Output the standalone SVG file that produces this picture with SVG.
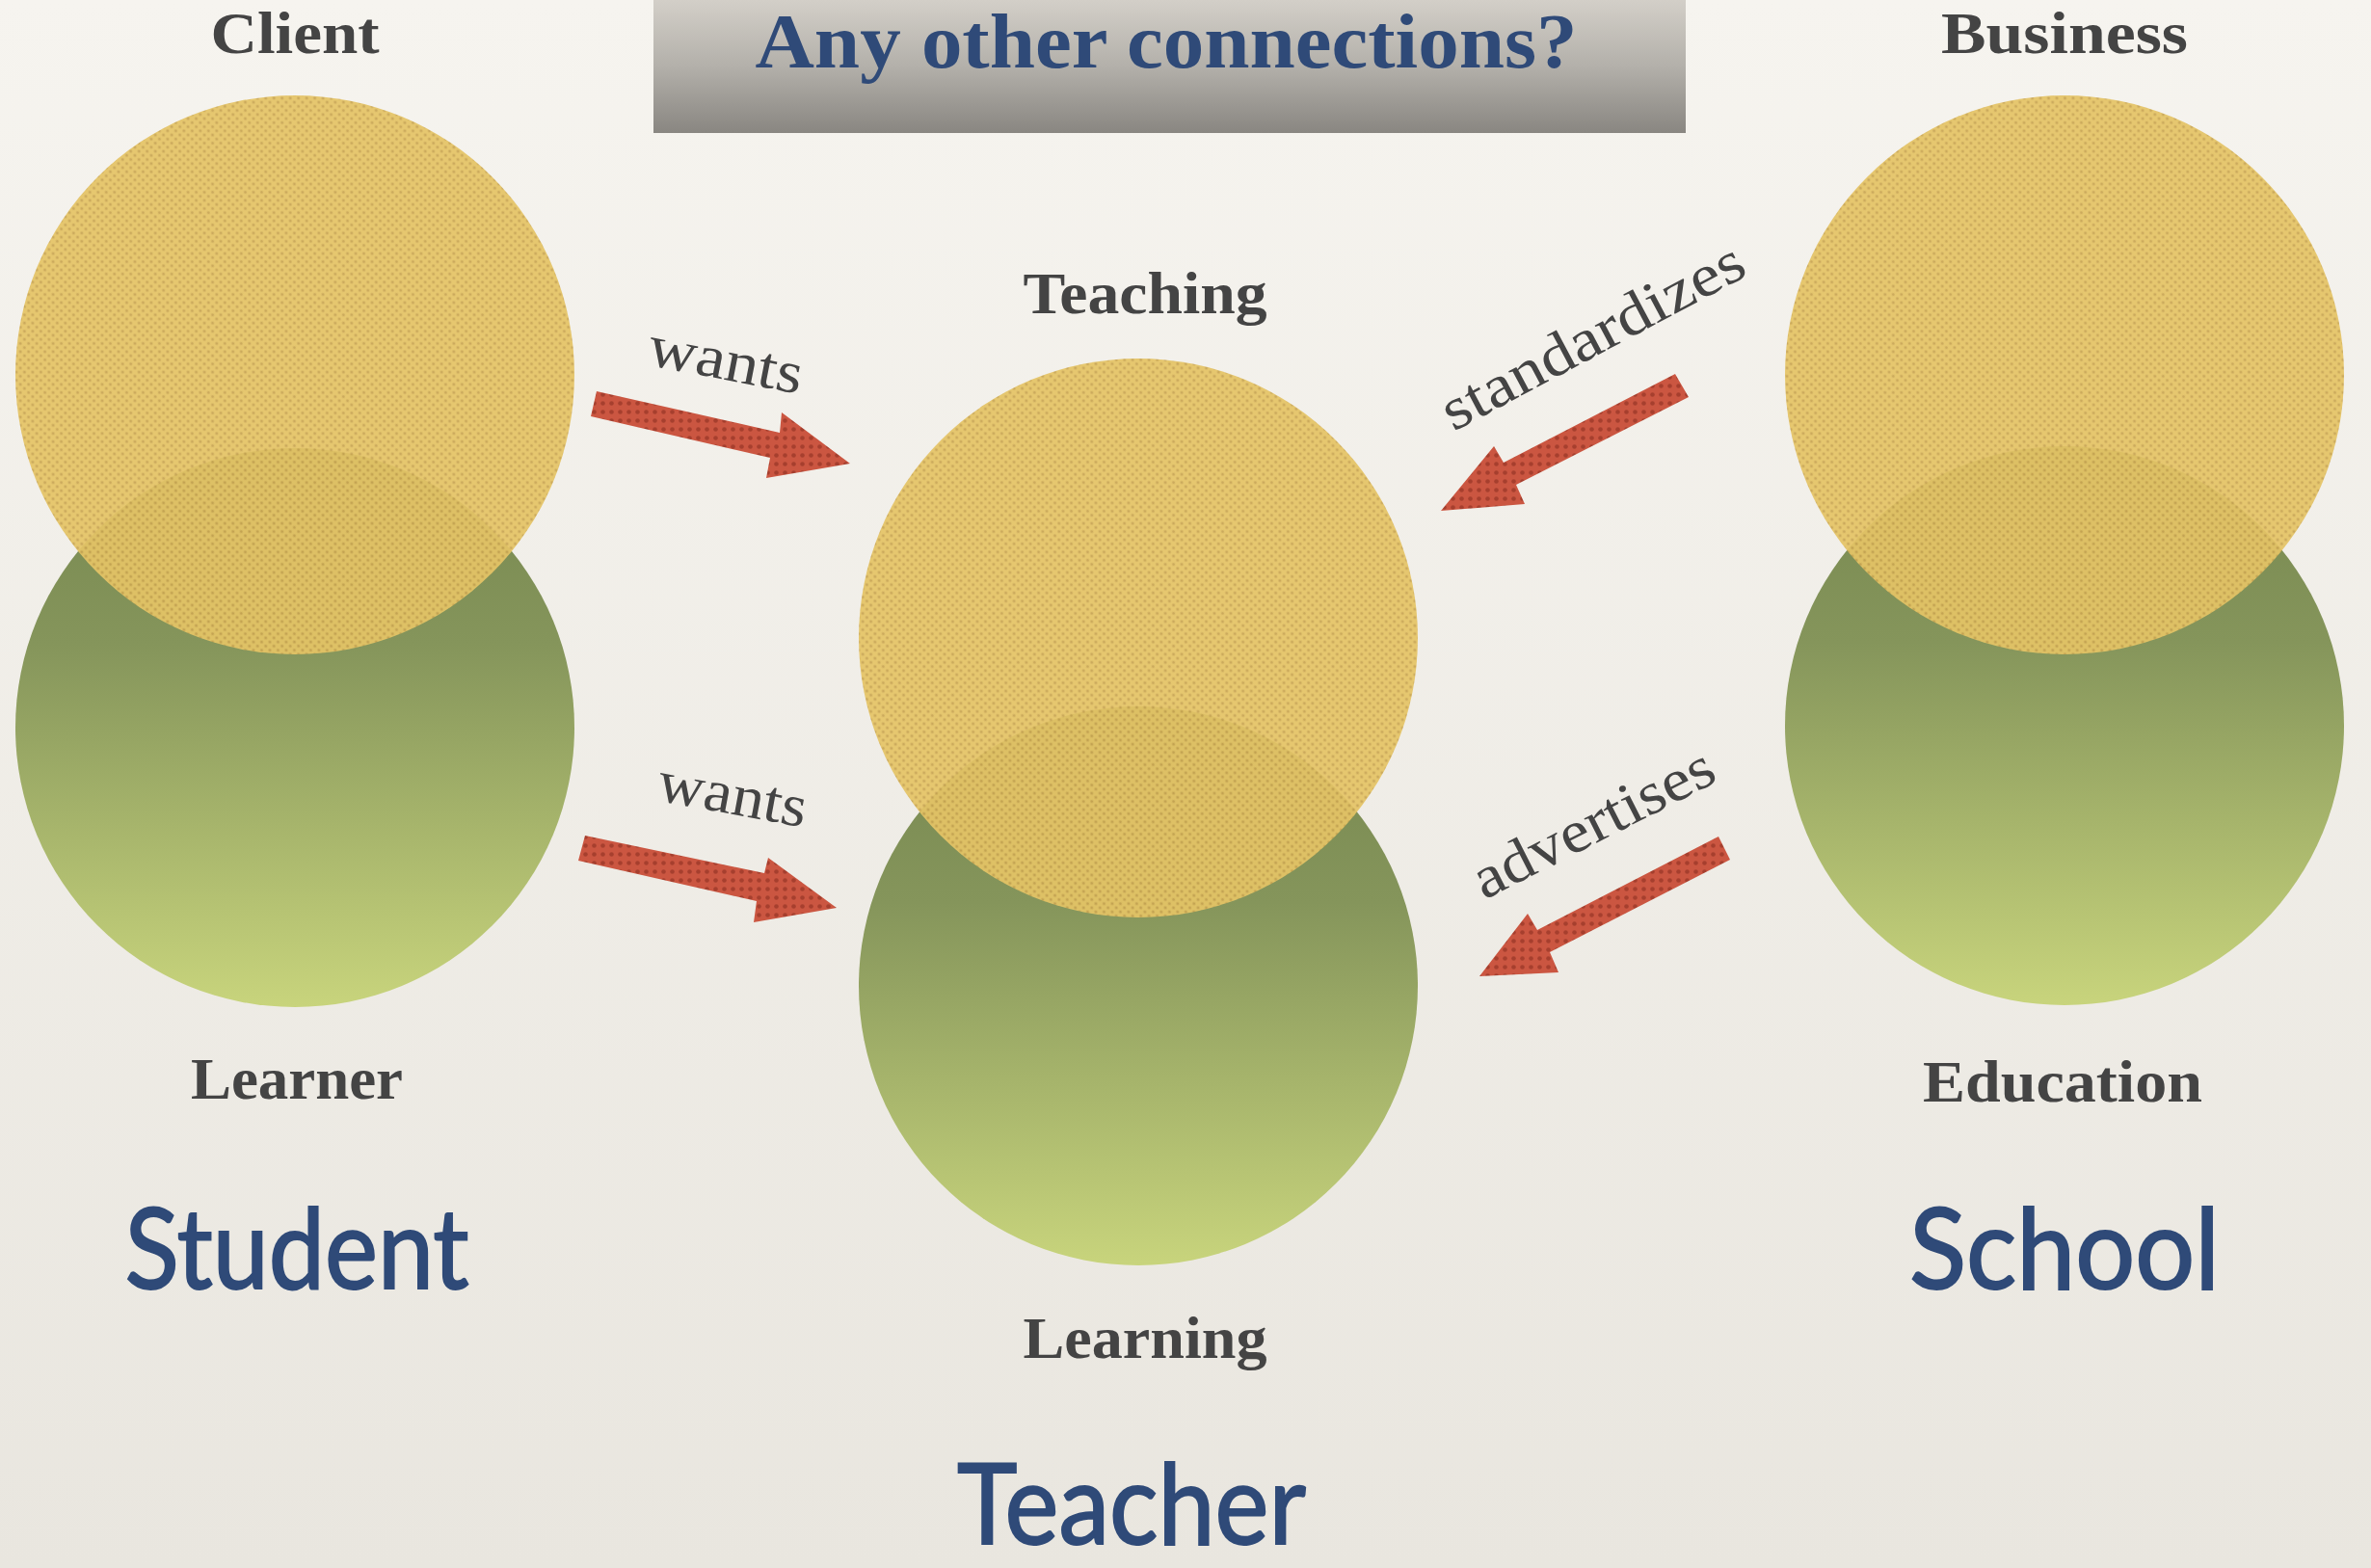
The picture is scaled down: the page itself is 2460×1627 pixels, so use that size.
<svg xmlns="http://www.w3.org/2000/svg" width="2460" height="1627" viewBox="0 0 2460 1627">
<defs>
<linearGradient id="bg" x1="0" y1="0" x2="0" y2="1">
<stop offset="0" stop-color="#f6f4ef"/>
<stop offset="1" stop-color="#e9e6df"/>
</linearGradient>
<linearGradient id="titleg" x1="0" y1="0" x2="0" y2="1">
<stop offset="0" stop-color="#d3cfc8"/>
<stop offset="0.5" stop-color="#b3b0aa"/>
<stop offset="1" stop-color="#898681"/>
</linearGradient>
<linearGradient id="greeng" x1="0" y1="0" x2="0" y2="1">
<stop offset="0" stop-color="#76874f"/>
<stop offset="0.35" stop-color="#85955b"/>
<stop offset="1" stop-color="#c8d47c"/>
</linearGradient>
<pattern id="ydots" width="6" height="6" patternUnits="userSpaceOnUse" patternTransform="rotate(45)">
<rect width="6" height="6" fill="#e5c466"/>
<circle cx="3" cy="3" r="1.6" fill="#c9a552"/>
</pattern>
<pattern id="rdots" width="9" height="9" patternUnits="userSpaceOnUse">
<rect width="9" height="9" fill="#cb5641"/>
<circle cx="4.5" cy="4.5" r="2.3" fill="#a63f2e"/>
</pattern>
</defs>
<style>
.lbl{font-family:"Liberation Serif","Times New Roman",serif;font-weight:bold;font-size:62px;fill:#444444;text-anchor:middle}
.big{font-family:Lato,"Noto Sans",sans-serif;font-weight:normal;font-size:116px;fill:#2f4a78;stroke:#2f4a78;stroke-width:2;text-anchor:middle}
.verb{font-family:"Liberation Serif","Times New Roman",serif;font-size:62px;fill:#444444}
.green{fill:url(#greeng)}
.yellow{fill:url(#ydots);opacity:0.93}
.arrow{fill:url(#rdots)}
</style>
<rect width="2460" height="1627" fill="url(#bg)"/>

<g id="title">
<rect x="678" y="0" width="1071" height="138" fill="url(#titleg)"/>
<text x="1210" y="70" font-family="'Liberation Serif','Times New Roman',serif" font-weight="bold" font-size="80" fill="#2f4a78" text-anchor="middle" textLength="853" lengthAdjust="spacingAndGlyphs">Any other connections?</text>
</g>

<g id="student">
<circle class="green" cx="306" cy="755" r="290"/>
<circle class="yellow" cx="306" cy="389" r="290"/>
<text class="lbl" x="306" y="55" textLength="175" lengthAdjust="spacingAndGlyphs">Client</text>
<text class="lbl" x="308" y="1140" textLength="220" lengthAdjust="spacingAndGlyphs">Learner</text>
<text class="big" x="308" y="1337" textLength="357" lengthAdjust="spacingAndGlyphs">Student</text>
</g>

<g id="teacher">
<circle class="green" cx="1181" cy="1023" r="290"/>
<circle class="yellow" cx="1181" cy="662" r="290"/>
<text class="lbl" x="1188" y="325" textLength="253" lengthAdjust="spacingAndGlyphs">Teaching</text>
<text class="lbl" x="1188" y="1409" textLength="253" lengthAdjust="spacingAndGlyphs">Learning</text>
<text class="big" x="1174" y="1602" font-size="110" textLength="362" lengthAdjust="spacingAndGlyphs">Teacher</text>
</g>

<g id="school">
<circle class="green" cx="2142" cy="753" r="290"/>
<circle class="yellow" cx="2142" cy="389" r="290"/>
<text class="lbl" x="2142" y="55" textLength="256" lengthAdjust="spacingAndGlyphs">Business</text>
<text class="lbl" x="2140" y="1143" textLength="290" lengthAdjust="spacingAndGlyphs">Education</text>
<text class="big" x="2142" y="1337" textLength="322" lengthAdjust="spacingAndGlyphs">School</text>
</g>

<g id="connectors">
<polygon class="arrow" points="619,406 809,449 811,428 882,481 795,496 799,475 613,432"/>
<polygon class="arrow" points="607,867 793,906 797,890 868,942 782,957 785,935 600,893"/>
<polygon class="arrow" points="1738,388 1752,412 1573,503 1582,523 1495,530 1550,463 1560,480"/>
<polygon class="arrow" points="1783,868 1795,892 1608,988 1617,1009 1535,1013 1585,948 1595,965"/>
<text class="verb" transform="translate(670,378) rotate(11)" textLength="162" lengthAdjust="spacingAndGlyphs">wants</text>
<text class="verb" transform="translate(680,830) rotate(10.5)" textLength="156" lengthAdjust="spacingAndGlyphs">wants</text>
<text class="verb" transform="translate(1508,448) rotate(-28)" textLength="348" lengthAdjust="spacingAndGlyphs">standardizes</text>
<text class="verb" transform="translate(1540,934) rotate(-27)" textLength="274" lengthAdjust="spacingAndGlyphs">advertises</text>
</g>
</svg>
